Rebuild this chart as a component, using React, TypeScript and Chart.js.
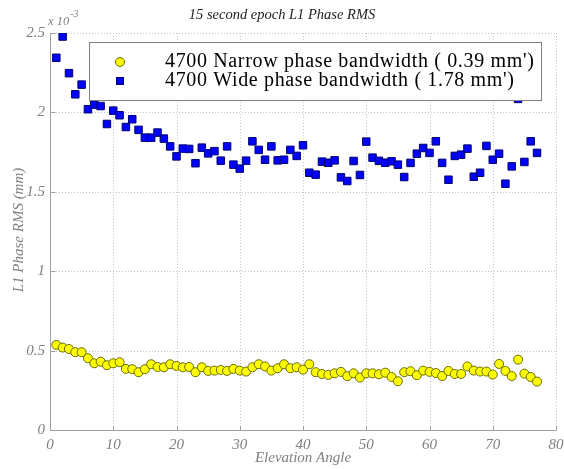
import React, { useEffect, useRef } from "react";
import { Chart, registerables } from "chart.js";

Chart.register(...registerables);

const elevation: number[] = Array.from({ length: 77 }, (_, i) => i + 1);

const narrowRms: number[] = [
  0.536, 0.519, 0.51, 0.49, 0.49, 0.452, 0.42, 0.43, 0.408, 0.42,
  0.427, 0.385, 0.383, 0.364, 0.383, 0.414, 0.397, 0.395, 0.414, 0.403,
  0.395, 0.397, 0.364, 0.395, 0.372, 0.374, 0.378, 0.372, 0.385, 0.374,
  0.368, 0.395, 0.414, 0.4, 0.374, 0.389, 0.414, 0.389, 0.395, 0.38,
  0.414, 0.364, 0.353, 0.347, 0.357, 0.366, 0.339, 0.357, 0.33, 0.357,
  0.357, 0.351, 0.361, 0.334, 0.307, 0.364, 0.37, 0.345, 0.374, 0.366,
  0.359, 0.34, 0.372, 0.353, 0.353, 0.4, 0.374, 0.368, 0.368, 0.349,
  0.416, 0.372, 0.34, 0.443, 0.355, 0.334, 0.305,
];

const wideRms: number[] = [
  2.344, 2.478, 2.247, 2.114, 2.175, 2.02, 2.049, 2.04, 1.927, 2.011,
  1.982, 1.908, 1.957, 1.89, 1.841, 1.841, 1.873, 1.835, 1.786, 1.723,
  1.772, 1.77, 1.68, 1.778, 1.742, 1.756, 1.696, 1.786, 1.671, 1.646,
  1.696, 1.818, 1.764, 1.702, 1.786, 1.698, 1.702, 1.764, 1.726, 1.793,
  1.62, 1.608, 1.69, 1.683, 1.698, 1.591, 1.568, 1.694, 1.606, 1.816,
  1.715, 1.695, 1.683, 1.692, 1.671, 1.593, 1.682, 1.74, 1.776, 1.745,
  1.818, 1.682, 1.576, 1.726, 1.734, 1.772, 1.595, 1.62, 1.789, 1.702,
  1.74, 1.551, 1.66, 2.085, 1.688, 1.818, 1.745,
];

const seriesLabels: string[] = [
  "4700 Narrow phase bandwidth ( 0.39 mm')",
  "4700 Wide phase bandwidth ( 1.78 mm')",
];

const titleText = "15 second epoch L1 Phase RMS";
const xLabel = "Elevation Angle";
const yLabel = "L1 Phase RMS (mm)";

const SERIF = "'Liberation Serif', 'Times New Roman', serif";
const GRAY = "#7f7f7f";

const gridPlugin = {
  id: "gridPlugin",
  beforeDatasetsDraw(chart: any) {
    const { ctx, chartArea, scales } = chart;
    const { left, right, top, bottom } = chartArea;
    ctx.save();
    ctx.strokeStyle = "#c4c4c4";
    ctx.lineWidth = 1;
    ctx.setLineDash([1, 2]);
    scales.x.ticks.forEach((t: any) => {
      const px = Math.round(scales.x.getPixelForValue(t.value)) + 0.5;
      if (Math.abs(px - left) < 1) return;
      ctx.beginPath();
      ctx.moveTo(px, bottom);
      ctx.lineTo(px, top);
      ctx.stroke();
    });
    scales.y.ticks.forEach((t: any) => {
      const py = Math.round(scales.y.getPixelForValue(t.value)) + 0.5;
      if (Math.abs(py - bottom) < 1) return;
      ctx.beginPath();
      ctx.moveTo(left, py);
      ctx.lineTo(right, py);
      ctx.stroke();
    });
    ctx.setLineDash([]);
    ctx.strokeStyle = "#a0a0a0";
    const l = Math.round(left) + 0.5;
    const b = Math.round(bottom) + 0.5;
    ctx.beginPath();
    ctx.moveTo(l, top);
    ctx.lineTo(l, b);
    ctx.lineTo(right, b);
    ctx.stroke();
    scales.x.ticks.forEach((t: any) => {
      const px = Math.round(scales.x.getPixelForValue(t.value)) + 0.5;
      ctx.beginPath();
      ctx.moveTo(px, b);
      ctx.lineTo(px, b - 5);
      ctx.stroke();
    });
    scales.y.ticks.forEach((t: any) => {
      const py = Math.round(scales.y.getPixelForValue(t.value)) + 0.5;
      ctx.beginPath();
      ctx.moveTo(l, py);
      ctx.lineTo(l + 5, py);
      ctx.stroke();
    });
    ctx.restore();
  },
};

const overlay = {
  id: "overlay",
  afterDraw(chart: any) {
    const { ctx, chartArea } = chart;
    const { left, right } = chartArea;
    ctx.save();

    ctx.fillStyle = "#222";
    ctx.font = `italic 14.5px ${SERIF}`;
    ctx.textAlign = "center";
    ctx.textBaseline = "middle";
    ctx.fillText(titleText, 282, 15);

    ctx.fillStyle = GRAY;
    ctx.font = `italic 12.5px ${SERIF}`;
    ctx.textAlign = "left";
    ctx.textBaseline = "alphabetic";
    ctx.fillText("x 10", 48, 25);
    const w = ctx.measureText("x 10").width;
    ctx.font = `italic 10px ${SERIF}`;
    ctx.fillText("-3", 48 + w + 1, 17);

    ctx.font = `italic 15px ${SERIF}`;
    ctx.textAlign = "center";
    ctx.textBaseline = "middle";
    ctx.fillText(xLabel, (left + right) / 2, 458);
    ctx.save();
    ctx.translate(19, 230);
    ctx.rotate(-Math.PI / 2);
    ctx.fillText(yLabel, 0, 0);
    ctx.restore();

    const bx = 89.5, by = 42.5, bw = 452, bh = 58;
    ctx.fillStyle = "#ffffff";
    ctx.fillRect(bx, by, bw, bh);
    ctx.strokeStyle = "#808080";
    ctx.lineWidth = 1;
    ctx.strokeRect(bx, by, bw, bh);

    const rows = [62, 81];
    ctx.beginPath();
    ctx.arc(120, rows[0], 4.5, 0, Math.PI * 2);
    ctx.fillStyle = "#ffff00";
    ctx.fill();
    ctx.strokeStyle = "#6b6b00";
    ctx.stroke();
    ctx.fillStyle = "#0000ff";
    ctx.fillRect(116.5, rows[1] - 3.5, 7, 7);
    ctx.strokeStyle = "#000070";
    ctx.strokeRect(116.5, rows[1] - 3.5, 7, 7);

    ctx.fillStyle = "#000000";
    ctx.font = `20px ${SERIF}`;
    (ctx as any).letterSpacing = "0.65px";
    ctx.textAlign = "left";
    ctx.textBaseline = "middle";
    ctx.fillText(seriesLabels[0], 165, rows[0]);
    ctx.fillText(seriesLabels[1], 165, rows[1]);
    (ctx as any).letterSpacing = "0px";
    ctx.restore();
  },
};

export default function App() {
  const ref = useRef<HTMLCanvasElement | null>(null);
  useEffect(() => {
    if (!ref.current) return;
    const chart = new Chart(ref.current, {
      type: "scatter",
      data: {
        datasets: [
          {
            label: seriesLabels[0],
            data: elevation.map((x, i) => ({ x, y: narrowRms[i] })),
            pointStyle: "circle",
            pointRadius: 4.5,
            pointHoverRadius: 4.5,
            backgroundColor: "#ffff00",
            borderColor: "#6b6b00",
            borderWidth: 1,
          },
          {
            label: seriesLabels[1],
            data: elevation.map((x, i) => ({ x, y: wideRms[i] })),
            pointStyle: "rect",
            pointRadius: 5.3,
            pointHoverRadius: 5.3,
            backgroundColor: "#0000ff",
            borderColor: "#000070",
            borderWidth: 1,
          },
        ],
      },
      options: {
        responsive: false,
        animation: false,
        layout: { padding: { top: 33, right: 8, left: 0, bottom: 0 } },
        plugins: {
          legend: { display: false },
          title: { display: false },
          tooltip: { enabled: false },
        },
        scales: {
          x: {
            type: "linear",
            min: 0,
            max: 80,
            afterFit: (s: any) => {
              s.height = 39;
              s.paddingLeft = 0;
              s.paddingRight = 0;
            },
            ticks: {
              stepSize: 10,
              color: GRAY,
              font: { family: SERIF, size: 15, style: "italic" },
              padding: 6,
              maxRotation: 0,
            },
            grid: { display: false, drawTicks: false },
            border: { display: false },
          },
          y: {
            type: "linear",
            min: 0,
            max: 2.5,
            afterFit: (s: any) => {
              s.width = 50;
              s.paddingTop = 0;
              s.paddingBottom = 0;
            },
            ticks: {
              stepSize: 0.5,
              color: GRAY,
              font: { family: SERIF, size: 15, style: "italic" },
              padding: 5,
              callback: (v: any) => String(Number(v)),
            },
            grid: { display: false, drawTicks: false },
            border: { display: false },
          },
        },
      },
      plugins: [gridPlugin, overlay],
    } as any);
    return () => chart.destroy();
  }, []);
  return (
    <div style={{ position: "fixed", left: 0, top: 0, width: 564, height: 469, background: "#fff" }}>
      <canvas ref={ref} width={564} height={469} style={{ width: 564, height: 469 }} />
    </div>
  );
}
